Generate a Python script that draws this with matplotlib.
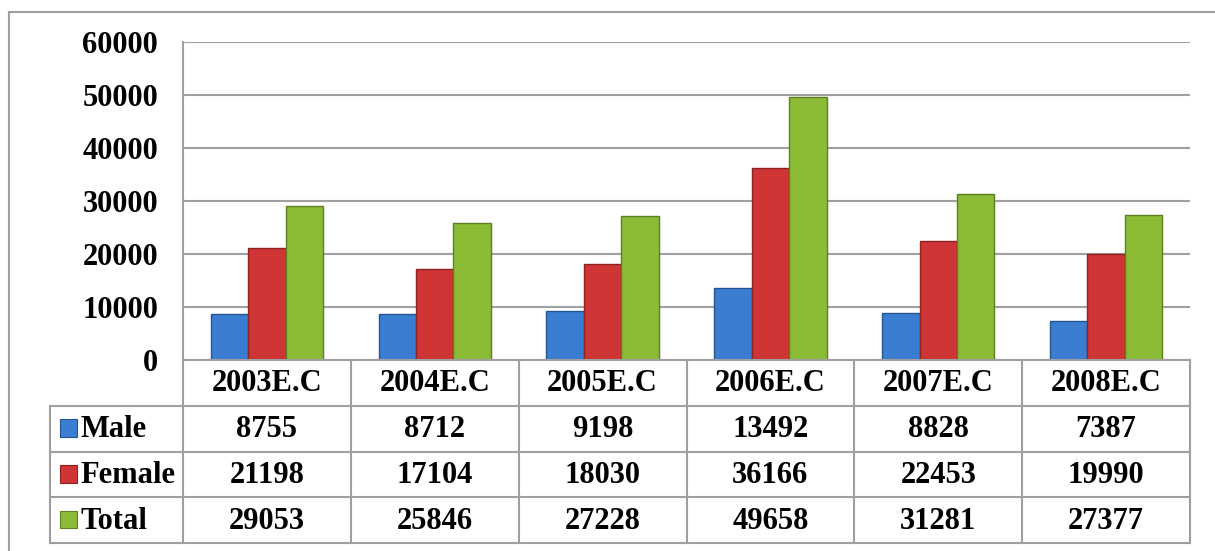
import numpy as np
import matplotlib
matplotlib.use("Agg")
import matplotlib.pyplot as plt
from matplotlib.patches import Rectangle

years = ["2003E.C", "2004E.C", "2005E.C", "2006E.C", "2007E.C", "2008E.C"]
male = [8755, 8712, 9198, 13492, 8828, 7387]
female = [21198, 17104, 18030, 36166, 22453, 19990]
total = [29053, 25846, 27228, 49658, 31281, 27377]
series_names = ["Male", "Female", "Total"]
colors = ["#3b7dd0", "#cf3535", "#8cbb35"]
edges = ["#24558f", "#8e2121", "#5d7f22"]

plt.rcParams["font.family"] = ["Liberation Serif", "DejaVu Serif"]
plt.rcParams["font.weight"] = "bold"

W, H = 1215, 551
FS = 22
fig = plt.figure(figsize=(W / 100, H / 100), dpi=100)

def box(left, top, right, bottom):
    return [left / W, 1 - bottom / H, (right - left) / W, (bottom - top) / H]

grid_col = "#a0a0a0"

# outer frame (only top and left visible in the crop)
fig.add_artist(plt.Line2D([9 / W, 1], [1 - 12 / H, 1 - 12 / H], color=grid_col, lw=1.5))
fig.add_artist(plt.Line2D([9 / W, 9 / W], [0, 1 - 12 / H], color=grid_col, lw=1.5))

# bar area
ax = fig.add_axes(box(183, 42, 1190, 360))
x = np.arange(len(years))
bw = 0.223
for i, (vals, c, e) in enumerate(zip([male, female, total], colors, edges)):
    ax.bar(x + (i - 1) * bw, vals, bw, color=c, edgecolor=e, linewidth=1.0, zorder=3)
ax.set_xlim(-0.5, len(years) - 0.5)
ax.set_ylim(0, 60000)
ax.set_yticks(np.arange(0, 60001, 10000))
ax.set_yticklabels([str(v) for v in range(0, 60001, 10000)], fontsize=FS, fontweight="bold")
ax.tick_params(axis="y", length=0, pad=18)
ax.set_xticks([])
ax.grid(axis="y", color=grid_col, lw=1.5, zorder=0)
for s in ["top", "right", "bottom"]:
    ax.spines[s].set_visible(False)
ax.spines["left"].set_color(grid_col)
ax.spines["left"].set_linewidth(1.5)

# data table below
tab = fig.add_axes(box(50, 360, 1190, 543))
lab_w = 133 / 167.8
tab.set_xlim(-0.5 - lab_w, len(years) - 0.5)
tab.set_ylim(0, 4)
tab.invert_yaxis()
tab.axis("off")

lw = 1.5
# horizontal lines
tab.plot([-0.5, len(years) - 0.5], [0, 0], color=grid_col, lw=lw, clip_on=False)
for r in [1, 2, 3, 4]:
    tab.plot([-0.5 - lab_w, len(years) - 0.5], [r, r], color=grid_col, lw=lw, clip_on=False)
# vertical lines
tab.plot([-0.5 - lab_w, -0.5 - lab_w], [1, 4], color=grid_col, lw=lw, clip_on=False)
for j in range(len(years) + 1):
    tab.plot([j - 0.5, j - 0.5], [0, 4], color=grid_col, lw=lw, clip_on=False)

for j, yr in enumerate(years):
    tab.text(j, 0.52, yr, ha="center", va="center", fontsize=FS, fontweight="bold")

for r, (name, vals, c, e) in enumerate(zip(series_names, [male, female, total], colors, edges)):
    yc = r + 1.5
    tab.add_patch(Rectangle((-0.5 - lab_w + 0.06, yc - 0.2), 0.1, 0.38,
                            facecolor=c, edgecolor=e, lw=0.8, clip_on=False))
    tab.text(-0.5 - lab_w + 0.18, yc + 0.02, name, ha="left", va="center",
             fontsize=FS, fontweight="bold")
    for j, v in enumerate(vals):
        tab.text(j, yc + 0.02, str(v), ha="center", va="center", fontsize=FS, fontweight="bold")

fig.savefig("out.png", dpi=100, facecolor="white")
